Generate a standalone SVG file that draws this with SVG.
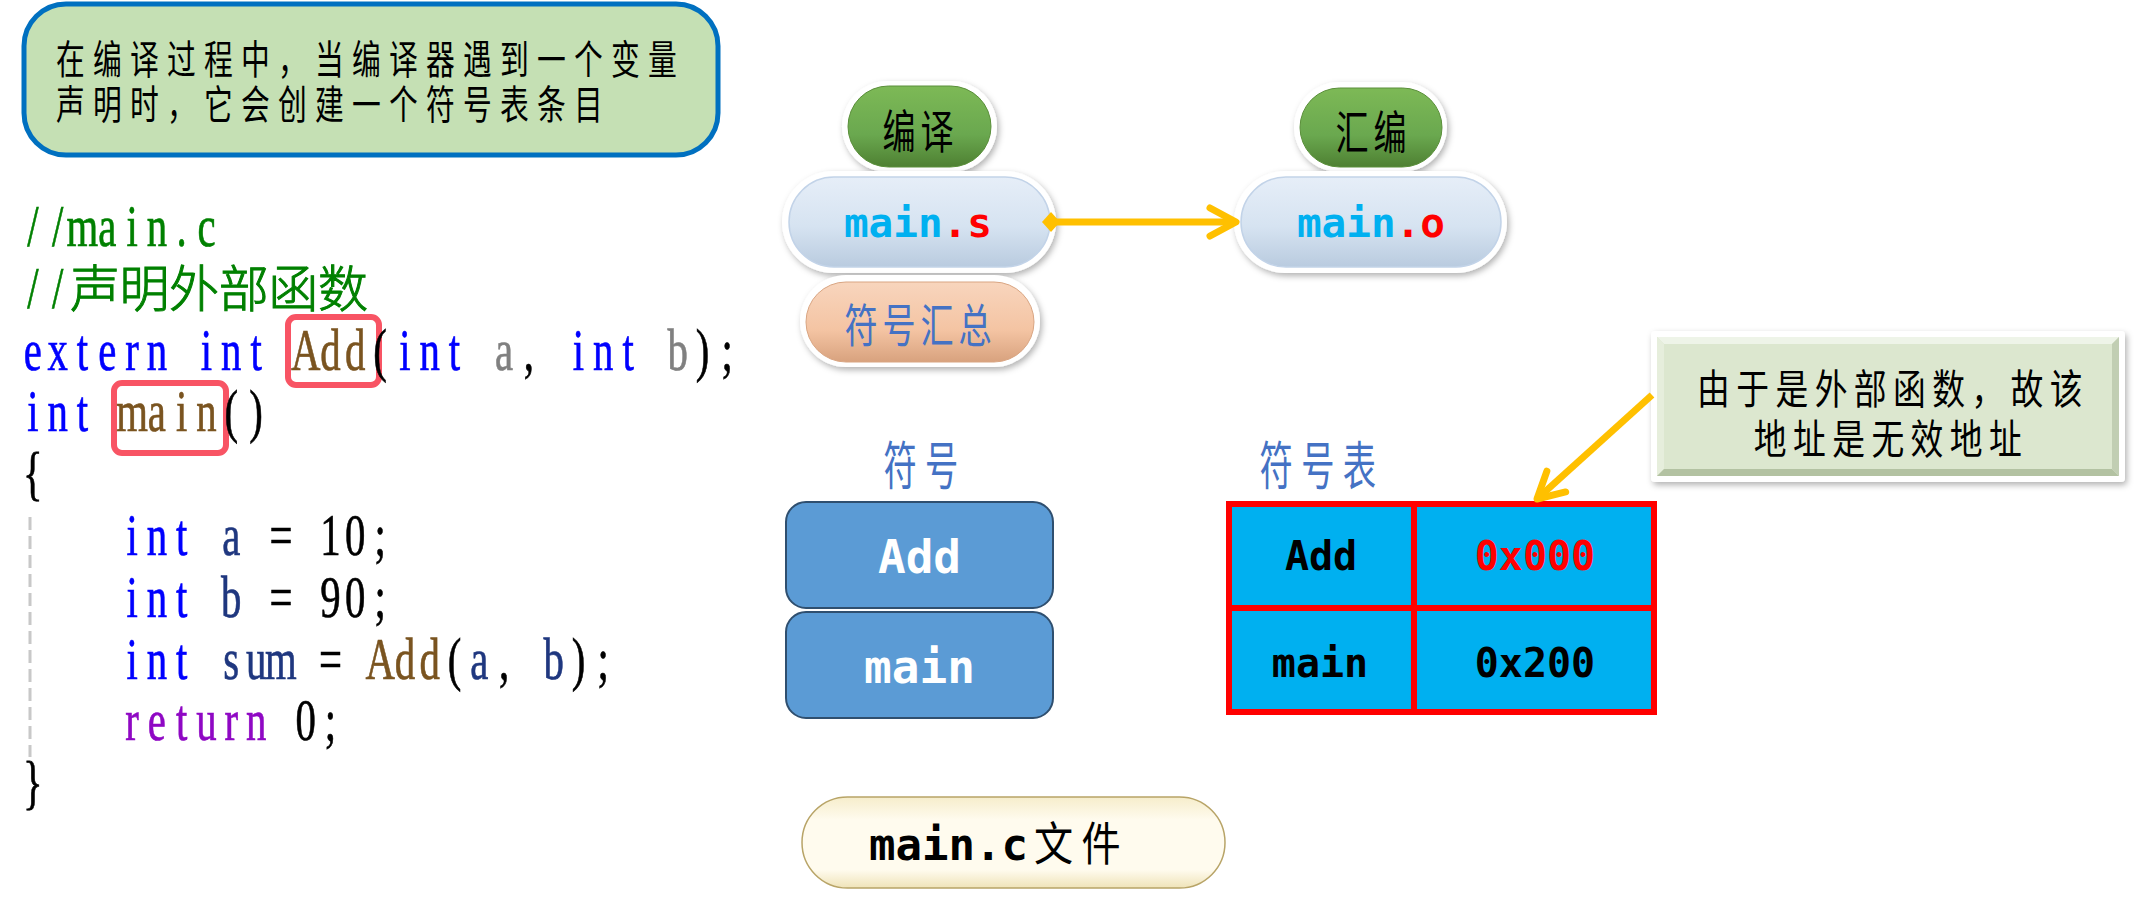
<svg xmlns="http://www.w3.org/2000/svg" width="2141" height="905" viewBox="0 0 2141 905">
<style>
.cjk{font-family:'Noto Sans CJK SC','Noto Sans',sans-serif;}
.mono{font-family:'DejaVu Sans Mono','Liberation Mono',monospace;}
.code{font-family:'Liberation Serif',serif;font-size:60px;text-anchor:middle;stroke-width:0.7;}
.kw{fill:#0000FF;stroke:#0000FF;}
.fn{fill:#7A5420;stroke:#7A5420;}
.pm{fill:#808080;stroke:#808080;}
.lv{fill:#1F377F;stroke:#1F377F;}
.bk{fill:#000000;stroke:#000000;}
.cm{fill:#008000;stroke:#008000;}
.rt{fill:#8F08C4;stroke:#8F08C4;}
.hl{fill:none;stroke:#F85464;stroke-width:6;}
.ring{fill:#FFFFFF;filter:url(#sh);}
.conn{stroke:#FFC000;stroke-width:7;fill:none;}
</style>
<defs>
<filter id="sh" x="-20%" y="-30%" width="140%" height="160%">
<feDropShadow dx="2" dy="3" stdDeviation="3" flood-color="#000" flood-opacity="0.3"/>
</filter>
<linearGradient id="gGreen" x1="0" y1="0" x2="0" y2="1">
<stop offset="0" stop-color="#7DB956"/><stop offset="0.6" stop-color="#6AA84F"/><stop offset="1" stop-color="#4E8032"/>
</linearGradient>
<linearGradient id="gBlue" x1="0" y1="0" x2="0" y2="1">
<stop offset="0" stop-color="#E6EEF8"/><stop offset="0.55" stop-color="#D6E3F1"/><stop offset="1" stop-color="#B9CBDF"/>
</linearGradient>
<linearGradient id="gPeach" x1="0" y1="0" x2="0" y2="1">
<stop offset="0" stop-color="#F8D5BD"/><stop offset="0.6" stop-color="#F4C4A3"/><stop offset="1" stop-color="#D8A27E"/>
</linearGradient>
<linearGradient id="gIvory" x1="0" y1="0" x2="0" y2="1">
<stop offset="0" stop-color="#F6EDCB"/><stop offset="0.25" stop-color="#FFFBEE"/><stop offset="0.8" stop-color="#FFFBEE"/><stop offset="1" stop-color="#EFE3B8"/>
</linearGradient>
<marker id="chev" markerUnits="userSpaceOnUse" viewBox="-40 -25 50 50" markerWidth="50" markerHeight="50" refX="0" refY="0" orient="auto" overflow="visible">
<path d="M-26,-14 L0,0 L-26,14" fill="none" stroke="#FFC000" stroke-width="7" stroke-linecap="round" stroke-linejoin="round"/>
</marker>
<marker id="dia" markerUnits="userSpaceOnUse" viewBox="-15 -15 30 30" markerWidth="30" markerHeight="30" refX="0" refY="0" orient="auto" overflow="visible">
<path d="M-9,0 L0,-10 L9,0 L0,10 Z" fill="#FFC000"/>
</marker>
</defs>

<rect width="2141" height="905" fill="#FFFFFF"/>

<g id="note">
<rect x="24" y="4" width="694" height="151" rx="42" fill="#C5E0B4" stroke="#0070C0" stroke-width="5"/>
<text class="cjk" font-size="40" letter-spacing="11.4" fill="#000" transform="translate(56 74) scale(0.72 1)">在编译过程中，当编译器遇到一个变量</text>
<text class="cjk" font-size="40" letter-spacing="11.4" fill="#000" transform="translate(56 119) scale(0.72 1)">声明时，它会创建一个符号表条目</text>
</g>

<g id="code">
<line x1="30" y1="517" x2="30" y2="757" stroke="#C8C8C8" stroke-width="3" stroke-dasharray="13 6"/>
<rect class="hl" x="288" y="317" width="91" height="68" rx="8"/>
<rect class="hl" x="114" y="383" width="112" height="70" rx="8"/>
<g transform="scale(0.68 1)">
<text class="code cm" x="48.4 84.85 121.3 157.8 194.3 230.7 267.2 303.7" y="246">//main.c</text>
<text class="code cm" x="48.4 84.85" y="307.8">//</text>
<text class="code kw" x="48.4 84.85 121.3 157.8 194.3 230.7" y="370">extern</text>
<text class="code kw" x="303.7 340.1 376.6" y="370">int</text>
<text class="code fn" x="449.6 486.0 522.5" y="370">Add</text>
<text class="code bk" x="559.0" y="370">(</text>
<text class="code kw" x="595.4 631.9 668.4" y="370">int</text>
<text class="code pm" x="741.3" y="370">a</text>
<text class="code bk" x="777.8" y="370">,</text>
<text class="code kw" x="850.7 887.2 923.7" y="370">int</text>
<text class="code pm" x="996.6" y="370">b</text>
<text class="code bk" x="1033.1 1069.5" y="370">);</text>
<text class="code kw" x="48.4 84.85 121.3" y="431.4">int</text>
<text class="code fn" x="194.3 230.7 267.2 303.7" y="431.4">main</text>
<text class="code bk" x="340.1 376.6" y="431.4">()</text>
<text class="code bk" x="48.4" y="493.2">{</text>
<text class="code kw" x="194.3 230.7 267.2" y="555">int</text>
<text class="code lv" x="340.1" y="555">a</text>
<text class="code bk" x="413.1" y="555">=</text>
<text class="code bk" x="486.0 522.5 559.0" y="555">10;</text>
<text class="code kw" x="194.3 230.7 267.2" y="616.8">int</text>
<text class="code lv" x="340.1" y="616.8">b</text>
<text class="code bk" x="413.1" y="616.8">=</text>
<text class="code bk" x="486.0 522.5 559.0" y="616.8">90;</text>
<text class="code kw" x="194.3 230.7 267.2" y="678.6">int</text>
<text class="code lv" x="340.1 376.6 413.1" y="678.6">sum</text>
<text class="code bk" x="486.0" y="678.6">=</text>
<text class="code fn" x="559.0 595.4 631.9" y="678.6">Add</text>
<text class="code bk" x="668.4" y="678.6">(</text>
<text class="code lv" x="704.8" y="678.6">a</text>
<text class="code bk" x="741.3" y="678.6">,</text>
<text class="code lv" x="814.2" y="678.6">b</text>
<text class="code bk" x="850.7 887.2" y="678.6">);</text>
<text class="code rt" x="194.3 230.7 267.2 303.7 340.1 376.6" y="740.4">return</text>
<text class="code bk" x="449.6 486.0" y="740.4">0;</text>
<text class="code bk" x="48.4" y="802.2">}</text>
</g>
<text class="cjk cm" font-size="50" font-weight="300" text-anchor="middle" x="94.9 144.5 194.1 243.7 293.3 342.9" y="307">声明外部函数</text>
</g>

<g id="compile">
<rect class="ring" x="842" y="81" width="155" height="91" rx="45.5"/>
<rect x="848" y="86" width="143" height="81" rx="40.5" fill="url(#gGreen)" stroke="#5A8F3A" stroke-width="1"/>
<text class="cjk" font-size="46" letter-spacing="6.8" text-anchor="middle" fill="#000" transform="translate(920.5 148) scale(0.72 1)">编译</text>
</g>

<g id="assemble">
<rect class="ring" x="1294" y="82" width="153" height="90" rx="45"/>
<rect x="1300" y="88" width="142" height="79" rx="39.5" fill="url(#gGreen)" stroke="#5A8F3A" stroke-width="1"/>
<text class="cjk" font-size="46" letter-spacing="6.8" text-anchor="middle" fill="#000" transform="translate(1373.5 149) scale(0.72 1)">汇编</text>
</g>

<g id="main_s">
<rect class="ring" x="782" y="171" width="274" height="102" rx="51"/>
<rect x="789" y="177" width="261" height="90" rx="45" fill="url(#gBlue)" stroke="#C2D3E8" stroke-width="1.5"/>
<text class="mono" font-size="41" font-weight="bold" text-anchor="middle" x="918" y="237"><tspan fill="#00B0F0">main</tspan><tspan fill="#FF0000">.s</tspan></text>
</g>

<g id="main_o">
<rect class="ring" x="1234" y="171" width="273" height="102" rx="51"/>
<rect x="1241" y="177" width="260" height="90" rx="45" fill="url(#gBlue)" stroke="#C2D3E8" stroke-width="1.5"/>
<text class="mono" font-size="41" font-weight="bold" text-anchor="middle" x="1371" y="237"><tspan fill="#00B0F0">main</tspan><tspan fill="#FF0000">.o</tspan></text>
</g>

<g id="summary">
<rect class="ring" x="800" y="275" width="240" height="92" rx="46"/>
<rect x="806" y="282" width="228" height="80" rx="40" fill="url(#gPeach)" stroke="#D9A582" stroke-width="1"/>
<text class="cjk" font-size="46" letter-spacing="6.8" text-anchor="middle" fill="#4472C4" transform="translate(920.5 342) scale(0.72 1)">符号汇总</text>
</g>

<g id="symbols">
<text class="cjk" font-size="52" letter-spacing="13" text-anchor="middle" fill="#4472C4" transform="translate(925 485) scale(0.64 1)">符号</text>
<rect x="786" y="502" width="267" height="106" rx="20" fill="#5B9BD5" stroke="#2F4F6F" stroke-width="2"/>
<text class="mono" font-size="46" font-weight="bold" text-anchor="middle" fill="#FFFFFF" x="919.5" y="573">Add</text>
<rect x="786" y="612" width="267" height="106" rx="20" fill="#5B9BD5" stroke="#2F4F6F" stroke-width="2"/>
<text class="mono" font-size="46" font-weight="bold" text-anchor="middle" fill="#FFFFFF" x="919.5" y="683">main</text>
</g>

<g id="symtable">
<text class="cjk" font-size="52" letter-spacing="13" text-anchor="middle" fill="#4472C4" transform="translate(1322 485) scale(0.64 1)">符号表</text>
<rect x="1229" y="504" width="425" height="208" fill="#00B0F0" stroke="#FF0000" stroke-width="6"/>
<line x1="1414" y1="504" x2="1414" y2="712" stroke="#FF0000" stroke-width="6"/>
<line x1="1229" y1="608" x2="1654" y2="608" stroke="#FF0000" stroke-width="6"/>
<text class="mono" font-size="40" font-weight="bold" text-anchor="middle" fill="#000" x="1321" y="570">Add</text>
<text class="mono" font-size="40" font-weight="bold" text-anchor="middle" fill="#FF0000" x="1535" y="570">0x000</text>
<text class="mono" font-size="40" font-weight="bold" text-anchor="middle" fill="#000" x="1320" y="677">main</text>
<text class="mono" font-size="40" font-weight="bold" text-anchor="middle" fill="#000" x="1535" y="677">0x200</text>
</g>

<g id="callout">
<rect class="ring" x="1651" y="331" width="474" height="151" rx="4"/>
<rect x="1657" y="337" width="462" height="139" fill="#DCE7CF"/>
<polygon points="1657,337 2119,337 2112,344 1664,344" fill="#EEF4E8"/>
<polygon points="1657,337 1664,344 1664,469 1657,476" fill="#E6EEDC"/>
<polygon points="1657,476 1664,469 2112,469 2119,476" fill="#B3C2A2"/>
<polygon points="2119,337 2119,476 2112,469 2112,344" fill="#C1CEB3"/>
<text class="cjk" font-size="41" letter-spacing="8" text-anchor="middle" fill="#000" transform="translate(1893 404) scale(0.8 1)">由于是外部函数，故该</text>
<text class="cjk" font-size="41" letter-spacing="8" text-anchor="middle" fill="#000" transform="translate(1891 454) scale(0.8 1)">地址是无效地址</text>
</g>

<g id="file">
<rect x="802" y="797" width="423" height="91" rx="45.5" fill="url(#gIvory)" stroke="#B8A467" stroke-width="1.5"/>
<text class="mono" font-size="44" font-weight="bold" fill="#000" x="869" y="860">main.c</text>
<text class="cjk" font-size="46" letter-spacing="10" fill="#000" transform="translate(1034 860) scale(0.85 1)">文件</text>
</g>

<g id="connectors">
<line class="conn" x1="1051" y1="222" x2="1236" y2="222" marker-start="url(#dia)" marker-end="url(#chev)"/>
<line class="conn" x1="1652" y1="395" x2="1537" y2="499" marker-end="url(#chev)"/>
</g>
</svg>
